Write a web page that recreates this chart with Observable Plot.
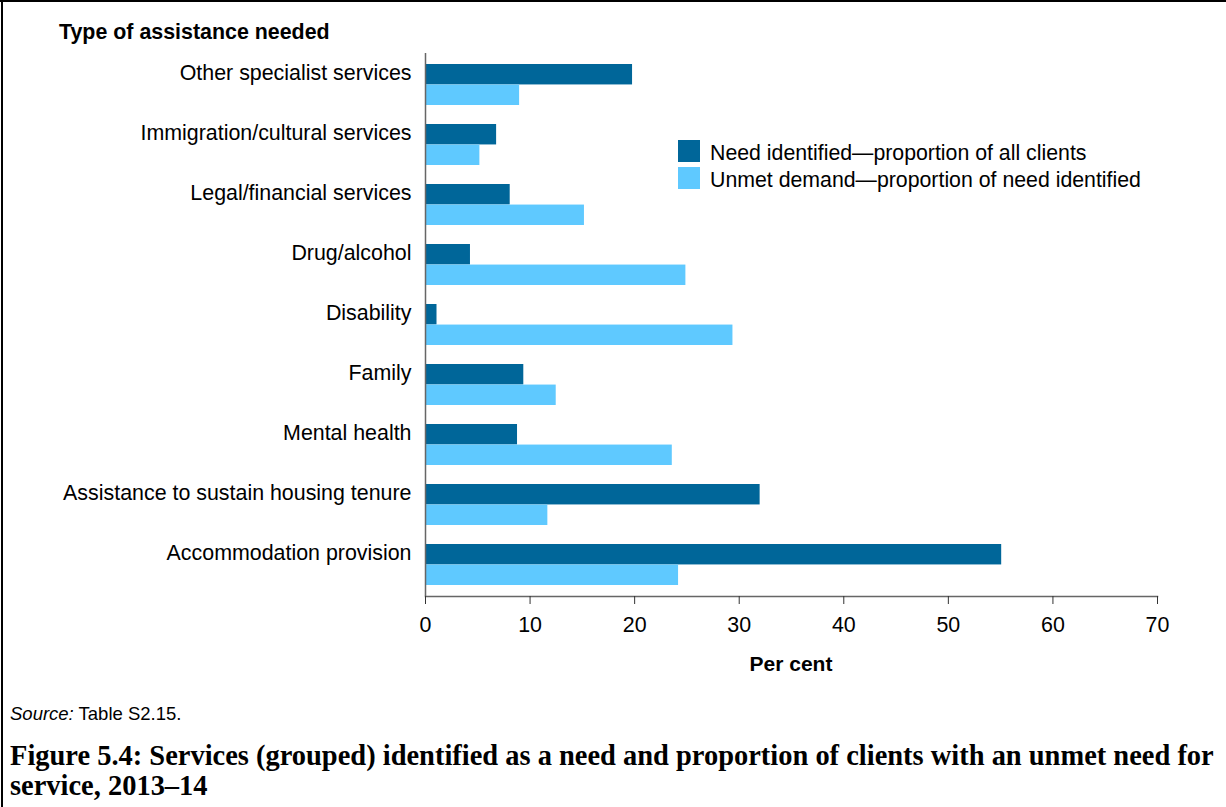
<!DOCTYPE html>
<html>
<head>
<meta charset="utf-8">
<script src="https://cdn.jsdelivr.net/npm/d3@7"></script>
<script src="https://cdn.jsdelivr.net/npm/@observablehq/plot@0.6"></script>
<style>
  html, body { margin: 0; padding: 0; background: #fff; }
  #wrap { position: relative; width: 1226px; height: 807px; overflow: hidden; background: #fff;
          font-family: "Liberation Sans", Arial, Helvetica, sans-serif; color: #000; }
  .abs { position: absolute; white-space: nowrap; }
  #chart { position: absolute; left: 0; top: 0; }
  .sw { position: absolute; width: 22px; height: 22px; }
</style>
</head>
<body>
<div id="wrap">
  <div class="abs" style="left:0;top:0;width:1226px;height:2px;background:#000"></div>
  <div class="abs" style="left:1px;top:0;width:2px;height:807px;background:#000"></div>
  <div id="chart"></div>
  <div id="title" class="abs" style="left:59px;top:20px;font-size:21.4px;line-height:24px;font-weight:bold"></div>
  <div id="legend"></div>
  <div id="xlabel" class="abs" style="left:425px;width:732px;top:652px;text-align:center;font-size:21px;line-height:24px;font-weight:bold"></div>
  <div id="source" class="abs" style="left:10px;top:703px;font-size:18.5px;line-height:22px"></div>
  <div id="caption" class="abs" style="left:10px;top:741px;font-family:'Liberation Serif','DejaVu Serif',serif;font-weight:bold;font-size:24px;line-height:30px"></div>
</div>
<script>
const categories = [
  "Other specialist services",
  "Immigration/cultural services",
  "Legal/financial services",
  "Drug/alcohol",
  "Disability",
  "Family",
  "Mental health",
  "Assistance to sustain housing tenure",
  "Accommodation provision"
];
const needIdentified = [19.8, 6.8, 8.1, 4.3, 1.1, 9.4, 8.8, 32.0, 55.1];
const unmetDemand    = [9.0, 5.2, 15.2, 24.9, 29.4, 12.5, 23.6, 11.7, 24.2];
const seriesNames = [
  "Need identified\u2014proportion of all clients",
  "Unmet demand\u2014proportion of need identified"
];
const seriesColors = ["#006699", "#5fc9ff"];
const xTicks = [0, 10, 20, 30, 40, 50, 60, 70];
const titleText = "Type of assistance needed";
const xLabelText = "Per cent";
const sourceLabel = "Source:";
const sourceText = " Table S2.15.";
const captionLines = [
  "Figure 5.4: Services (grouped) identified as a need and proportion of clients with an unmet need for",
  "service, 2013\u201314"
];

const W = 1226, H = 645;
const mL = 425, mR = 69, mT = 53, mB = 49;
const padIn = 0.32, padOut = 0.15;

const needRows = categories.map((c, i) => ({category: c, value: needIdentified[i]}));
const unmetRows = categories.map((c, i) => ({category: c, value: unmetDemand[i]}));

const yScale = Plot.scale({y: {type: "band", domain: categories, range: [mT, H - mB], paddingInner: padIn, paddingOuter: padOut}});
const bw = yScale.bandwidth;

const chart = Plot.plot({
  width: W, height: H,
  marginLeft: mL, marginRight: mR, marginTop: mT, marginBottom: mB,
  style: {fontFamily: "'Liberation Sans', Arial, Helvetica, sans-serif", fontSize: "21.4px", color: "#000", background: "transparent", overflow: "visible"},
  x: {domain: [0, 70]},
  y: {domain: categories, paddingInner: padIn, paddingOuter: padOut},
  marks: [
    Plot.barX(needRows, {x: "value", y: "category", fill: seriesColors[0], insetBottom: bw / 2}),
    Plot.barX(unmetRows, {x: "value", y: "category", fill: seriesColors[1], insetTop: bw / 2}),
    Plot.ruleX([0], {stroke: "#666", strokeWidth: 1.5}),
    Plot.frame({anchor: "bottom", stroke: "#666", strokeWidth: 1.5}),
    Plot.axisY({tickSize: 0, tickPadding: 14, dy: -bw / 4 - 1.5, label: null, fill: "#000"}),
    Plot.axisX({ticks: xTicks, tickSize: 8, tickPadding: 12, label: null, stroke: "#333", fill: "#000"})
  ]
});
document.getElementById("chart").appendChild(chart);

document.getElementById("title").textContent = titleText;
document.getElementById("xlabel").textContent = xLabelText;
const src = document.getElementById("source");
const em = document.createElement("i"); em.textContent = sourceLabel;
src.appendChild(em); src.appendChild(document.createTextNode(sourceText));

// caption: fit the first line to the reference width
const cap = document.getElementById("caption");
const capFamily = "'Liberation Serif', 'DejaVu Serif', serif";
const ctx = document.createElement("canvas").getContext("2d");
ctx.font = "bold 100px " + capFamily;
const w100 = ctx.measureText(captionLines[0]).width;
const capSize = Math.max(16, Math.min(30, 100 * 1204 / w100));
cap.style.fontSize = capSize.toFixed(2) + "px";
captionLines.forEach((t, i) => { if (i) cap.appendChild(document.createElement("br")); cap.appendChild(document.createTextNode(t)); });

const legend = document.getElementById("legend");
seriesNames.forEach((name, i) => {
  const top = 140 + i * 27;
  const sw = document.createElement("div");
  sw.className = "sw"; sw.style.left = "678px"; sw.style.top = top + "px"; sw.style.background = seriesColors[i];
  legend.appendChild(sw);
  const t = document.createElement("div");
  t.className = "abs"; t.style.left = "710px"; t.style.top = (top + 1) + "px";
  t.style.fontSize = "21.3px"; t.style.lineHeight = "24px";
  t.textContent = name;
  legend.appendChild(t);
});
</script>
</body>
</html>
